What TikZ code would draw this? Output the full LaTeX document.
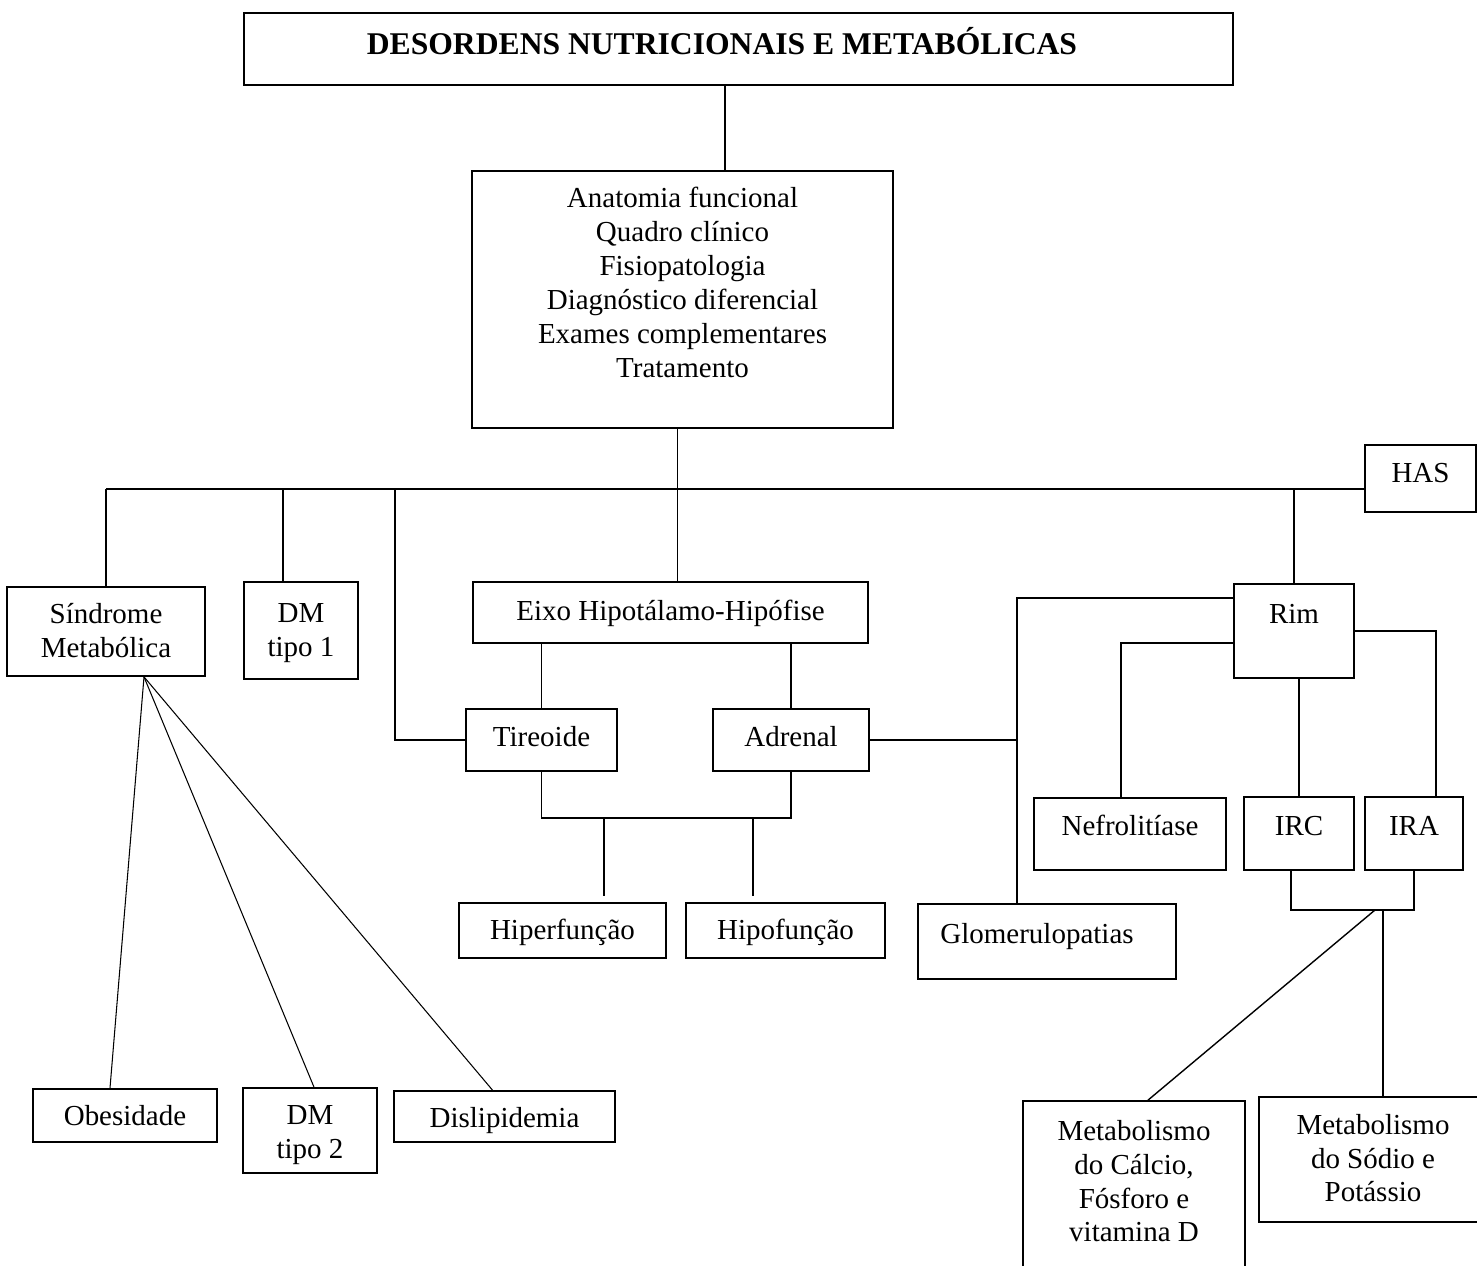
\documentclass[tikz,border=0pt]{standalone}
\usepackage{fontspec}
\setmainfont{Liberation Serif}
\usetikzlibrary{calc}
\newcommand{\bodyfont}{\fontsize{16.5}{19.35}\selectfont}
\newcommand{\headfont}{\fontsize{18}{21}\selectfont\bfseries}

\begin{document}
\begin{tikzpicture}[x=0.02cm, y=-0.02cm,
  box/.style={draw, line width=1pt, inner sep=0pt, align=center, font=\bodyfont},
  link/.style={line width=0.8pt}]
\useasboundingbox (0,0) rectangle (1477,1266);
\clip (0,0) rectangle (1477,1266);

\node[box, font=\headfont, minimum width=19.78cm, text height=0.84cm, text depth=0.60cm] (title) at (738.5,49) {DESORDENS NUTRICIONAIS E METABÓLICAS\hspace*{0.66cm}};
\node[box, minimum width=8.42cm, text height=4.14cm, text depth=1.00cm] (anat) at (682.5,299.5) {Anatomia funcional\\Quadro clínico\\Fisiopatologia\\Diagnóstico diferencial\\Exames complementares\\Tratamento};

\node[box, minimum width=3.96cm, text height=1.42cm, text depth=0.36cm] (sindrome) at (106,631.5) {Síndrome\\Metabólica};
\node[box, minimum width=2.28cm, text height=1.50cm, text depth=0.44cm] (dmone) at (301,630.5) {DM\\tipo 1};
\node[box, minimum width=7.90cm, text height=0.78cm, text depth=0.44cm] (eixo) at (670.5,612.5) {Eixo Hipotálamo-Hipófise};
\node[box, minimum width=3.02cm, text height=0.74cm, text depth=0.50cm] (tireoide) at (541.5,740) {Tireoide};
\node[box, minimum width=3.12cm, text height=0.74cm, text depth=0.50cm] (adrenal) at (791,740) {Adrenal};
\node[box, minimum width=4.14cm, text height=0.72cm, text depth=0.38cm] (hiper) at (562.5,930.5) {Hiperfunção};
\node[box, minimum width=3.98cm, text height=0.72cm, text depth=0.38cm] (hipo) at (785.5,930.5) {Hipofunção};

\node[box, minimum width=2.22cm, text height=0.76cm, text depth=0.58cm] (has) at (1420.5,478.5) {HAS};
\node[box, minimum width=2.40cm, text height=0.78cm, text depth=1.10cm] (rim) at (1294,631) {Rim};
\node[box, minimum width=3.84cm, text height=0.74cm, text depth=0.70cm] (nefro) at (1130,834) {Nefrolitíase};
\node[box, minimum width=2.20cm, text height=0.76cm, text depth=0.70cm] (irc) at (1299,833.5) {IRC};
\node[box, minimum width=1.96cm, text height=0.76cm, text depth=0.70cm] (ira) at (1414,833.5) {IRA};
\node[box, minimum width=5.16cm, text height=0.78cm, text depth=0.72cm] (glom) at (1047,941.5) {Glomerulopatias\hspace*{0.4cm}};

\node[box, minimum width=3.68cm, text height=0.72cm, text depth=0.34cm] (obes) at (125,1115.5) {Obesidade};
\node[box, minimum width=2.68cm, text height=1.40cm, text depth=0.30cm] (dmtwo) at (310,1130.5) {DM\\tipo 2};
\node[box, minimum width=4.42cm, text height=0.72cm, text depth=0.30cm] (disl) at (504.5,1116.5) {Dislipidemia};
\node[box, minimum width=4.44cm, text height=2.82cm, text depth=1.16cm] (calcio) at (1134,1200.5) {Metabolismo\\do Cálcio,\\Fósforo e\\vitamina D};
\node[box, minimum width=4.56cm, text height=2.10cm, text depth=0.40cm] (sodio) at (1373,1159.5) {Metabolismo\\do Sódio e\\Potássio};

\coordinate (bus) at (0,489);
\coordinate (tab) at (0,818);
\coordinate (rb) at (0,910);

\draw[link] ($(title.south)+(-13.5,0)$) coordinate (t1) -- (t1 |- anat.north);
\draw[link] ($(anat.south)+(-5,0)$) coordinate (a1) -- (a1 |- eixo.north);
\draw[link] (bus -| sindrome.north) -- (bus -| has.west);
\draw[link] (sindrome.north) -- (sindrome.north |- bus);
\draw[link] ($(dmone.north)+(-18,0)$) coordinate (d1) -- (d1 |- bus);
\draw[link] (tireoide.west) -| ($(bus)+(395,0)$);
\draw[link] (rim.north) -- (rim.north |- bus);

\draw[link] (eixo.south -| tireoide.north) -- (tireoide.north);
\draw[link] (eixo.south -| adrenal.north) -- (adrenal.north);
\draw[link] (tireoide.south) -- (tireoide.south |- tab) -- (adrenal.south |- tab) -- (adrenal.south);
\path ($(hiper.north)+(41.5,0)$) coordinate (h1) ($(hipo.north)+(-32.5,0)$) coordinate (h2);
\draw[link, shorten >=0.12cm] (h1 |- tab) -- (h1);
\draw[link, shorten >=0.12cm] (h2 |- tab) -- (h2);

% rim
\draw[link] ($(glom.north)+(-30,0)$) coordinate (g1) |- ($(rim.north west)+(0,15)$);
\draw[link] (adrenal.east) -- (adrenal.east -| g1);
\draw[link] ($(rim.west)+(0,12)$) -| ($(nefro.north)+(-9,0)$);
\draw[link] (rim.east) -| ($(ira.north)+(22,0)$);
\draw[link] (rim.south -| irc.north) -- (irc.north);
\draw[link] ($(irc.south)+(-8,0)$) coordinate (c1) -- (c1 |- rb) -- (ira.south |- rb) -- (ira.south);
\draw[link] ($(sodio.north)+(10,0)$) coordinate (s1) -- (s1 |- rb);
\draw[link] ($(calcio.north)+(14,0)$) -- ($(rb)+(1375,0)$);

% sindrome metabolica
\coordinate (apex) at ($(sindrome.south)+(38,0)$);
\foreach \n/\dx in {obes/-15, dmtwo/4, disl/-12}
  \draw[link, line width=0.6pt] (apex) -- ($(\n.north)+(\dx,0)$);

\end{tikzpicture}
\end{document}
